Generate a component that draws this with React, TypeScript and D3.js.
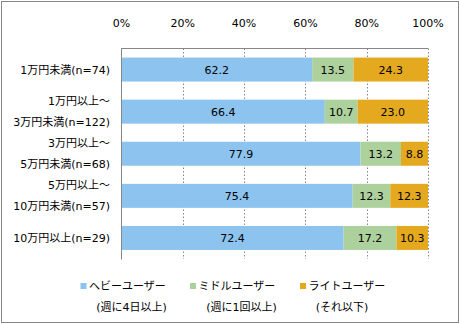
import React from "react";
import * as d3 from "d3";

const categories: string[][] = [
  ["1万円未満(n=74)"],
  ["1万円以上～", "3万円未満(n=122)"],
  ["3万円以上～", "5万円未満(n=68)"],
  ["5万円以上～", "10万円未満(n=57)"],
  ["10万円以上(n=29)"],
];
const heavy = [62.2, 66.4, 77.9, 75.4, 72.4];
const middle = [13.5, 10.7, 13.2, 12.3, 17.2];
const light = [24.3, 23.0, 8.8, 12.3, 10.3];
const seriesNames = ["ヘビーユーザー", "ミドルユーザー", "ライトユーザー"];
const seriesSub = ["(週に4日以上)", "(週に1回以上)", "(それ以下)"];
const colors = ["#8DC3EF", "#ADD19C", "#E4A91E"];
const ticks = [0, 20, 40, 60, 80, 100];

const FONT = "'DejaVu Sans', 'Noto Sans CJK JP', sans-serif";

export default function App() {
  const W = 460, H = 324;
  const x = d3.scaleLinear().domain([0, 100]).range([121.5, 428]);
  const y = d3
    .scaleBand<number>()
    .domain(d3.range(categories.length))
    .range([48.5, 259])
    .paddingInner(0.43)
    .paddingOuter(0.215);
  const series = [heavy, middle, light];
  const rows = categories.map((_, i) => {
    const vals = series.map((s) => s[i]);
    const total = d3.sum(vals);
    let acc = 0;
    return vals.map((v, k) => {
      const start = acc;
      acc += v;
      return { k, v, x0: (start / total) * 100, x1: (acc / total) * 100 };
    });
  });
  const legendX = [80.5, 190, 300];
  const subX = [131.5, 241.5, 342];
  return (
    <svg width={W} height={H} style={{ position: "absolute", left: 0, top: 0 }} fontFamily={FONT}>
      <rect x={0} y={0} width={W} height={H} fill="#fff" />
      <rect x={1.5} y={1.5} width={457} height={321} fill="none" stroke="#868686" strokeWidth={1} />
      {ticks.map((t) => (
        <g key={t}>
          {t > 0 && (
            <line x1={Math.round(x(t)) + 0.5} x2={Math.round(x(t)) + 0.5} y1={48.5} y2={259}
              stroke="#868686" strokeDasharray="1.5,2" />
          )}
          <text x={x(t)} y={23} dy="0.35em" textAnchor="middle" fontSize={11} fill="#000">
            {t}%
          </text>
        </g>
      ))}
      {rows.map((r, i) => (
        <g key={i}>
          {r.map((seg) => (
            <g key={seg.k}>
              <rect x={x(seg.x0)} y={y(i)} width={x(seg.x1) - x(seg.x0)} height={y.bandwidth()} fill={colors[seg.k]} />
              <text x={(x(seg.x0) + x(seg.x1)) / 2} y={y(i)! + y.bandwidth() / 2} dy="0.36em"
                textAnchor="middle" fontSize={11} fill="#000">
                {seg.v.toFixed(1)}
              </text>
            </g>
          ))}
        </g>
      ))}
      <line x1={121.5} x2={428} y1={48.5} y2={48.5} stroke="#868686" />
      <line x1={121.5} x2={121.5} y1={48} y2={259.5} stroke="#868686" />
      {categories.map((lines, i) => {
        const cy = y(i)! + y.bandwidth() / 2;
        return (
          <text key={i} textAnchor="end" fontSize={11} fill="#000">
            {lines.map((l, j) => (
              <tspan key={j} x={110} y={cy + (lines.length === 1 ? 0 : j === 0 ? -10.5 : 10.5)} dy="0.36em">
                {l}
              </tspan>
            ))}
          </text>
        );
      })}
      {seriesNames.map((n, k) => (
        <g key={k}>
          <rect x={legendX[k]} y={283} width={6} height={6} fill={colors[k]} />
          <text x={legendX[k] + 8.5} y={286} dy="0.36em" fontSize={11} fill="#000">{n}</text>
          <text x={subX[k]} y={307} dy="0.36em" textAnchor="middle" fontSize={11} fill="#000">{seriesSub[k]}</text>
        </g>
      ))}
    </svg>
  );
}
